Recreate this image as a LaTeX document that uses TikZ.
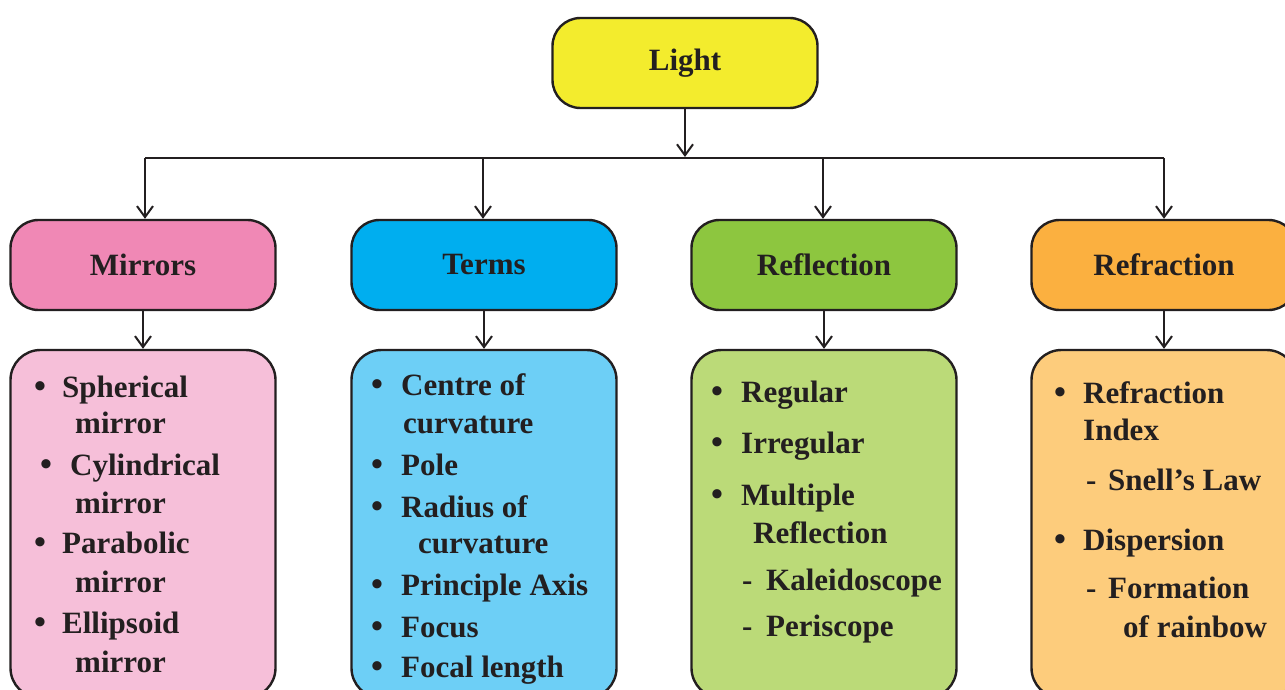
\documentclass[tikz,border=0pt]{standalone}
\usepackage{fontspec}
\setmainfont{Liberation Serif}
\usetikzlibrary{arrows.meta}
\definecolor{ink}{HTML}{231F20}
\definecolor{lightY}{HTML}{F3EC2D}
\definecolor{mirA}{HTML}{F088B5}
\definecolor{mirB}{HTML}{F6BFD9}
\definecolor{terA}{HTML}{00AEEF}
\definecolor{terB}{HTML}{6DCFF6}
\definecolor{refA}{HTML}{8DC63F}
\definecolor{refB}{HTML}{BBDA78}
\definecolor{frA}{HTML}{FBB040}
\definecolor{frB}{HTML}{FDCC7C}
\tikzset{
  box/.style={draw=ink, line width=2.4pt, rounded corners=28pt, minimum width=265pt,
    minimum height=90pt, inner sep=0pt, text=ink, font=\fontsize{31}{36}\selectfont\bfseries},
  body/.style={box, minimum height=348pt, rounded corners=30pt},
  item/.style={anchor=base west, inner sep=0pt, text=ink, font=\fontsize{31}{36}\selectfont\bfseries},
  bul/.style={anchor=base, inner sep=0pt, text=ink, font=\fontsize{34}{36}\selectfont\bfseries},
  conn/.style={draw=ink, line width=2pt},
  arr/.style={conn, -{Straight Barb[length=11pt,width=16pt]}}
}
\begin{document}
\begin{tikzpicture}[x=1pt,y=-1pt]
\useasboundingbox (0,0) rectangle (1285,690);
\fill[white] (0,0) rectangle (1285,690);

% top
\node[box, fill=lightY] (light) at (685,63) {Light};
\coordinate (hub) at (685,157);
\coordinate (jm) at (145,158);
\coordinate (jt) at (483,158);
\coordinate (jf) at (823,158);
\coordinate (jr) at (1164,158);

% row 2
\node[box, fill=mirA] (mirrors) at (143,265) {Mirrors};
\node[box, fill=terA] (terms) at (484,265) {Terms};
\node[box, fill=refA] (reflection) at (824,265) {Reflection};
\node[box, fill=frA] (refraction) at (1164,265) {Refraction};

% row 3
\node[body, fill=mirB] (mbody) at (143,524) {};
\node[body, fill=terB] (tbody) at (484,524) {};
\node[body, fill=refB] (rbody) at (824,524) {};
\node[body, fill=frB] (fbody) at (1164,524) {};

% connectors
\draw[arr] (light.south) -- (hub);
\draw[conn] (jm) -- (jr);
\draw[arr] (jm) -- (jm |- mirrors.north);
\draw[arr] (jt) -- (jt |- terms.north);
\draw[arr] (jf) -- (jf |- reflection.north);
\draw[arr] (jr) -- (jr |- refraction.north);
\draw[arr] (mirrors.south) -- (mbody.north);
\draw[arr] (terms.south) -- (tbody.north);
\draw[arr] (reflection.south) -- (rbody.north);
\draw[arr] (refraction.south) -- (fbody.north);

% Mirrors items
\node[bul] (mb1) at (40,397) {•};
\node[item] (mi1) at (62,397) {Spherical};
\node[item] (mi1b) at (75,433) {mirror};
\node[bul] (mb2) at (46,475) {•};
\node[item] (mi2) at (70,475) {Cylindrical};
\node[item] (mi2b) at (75,513) {mirror};
\node[bul] (mb3) at (40,553) {•};
\node[item] (mi3) at (62,553) {Parabolic};
\node[item] (mi3b) at (75,592) {mirror};
\node[bul] (mb4) at (40,633) {•};
\node[item] (mi4) at (62,633) {Ellipsoid};
\node[item] (mi4b) at (75,672) {mirror};

% Terms items
\node[bul] (tb1) at (377,395) {•};
\node[item] (ti1) at (401,395) {Centre of};
\node[item] (ti1b) at (403,433) {curvature};
\node[bul] (tb2) at (377,475) {•};
\node[item] (ti2) at (401,475) {Pole};
\node[bul] (tb3) at (377,517) {•};
\node[item] (ti3) at (401,517) {Radius of};
\node[item] (ti3b) at (418,553) {curvature};
\node[bul] (tb4) at (377,595) {•};
\node[item] (ti4) at (401,595) {Principle Axis};
\node[bul] (tb5) at (377,637) {•};
\node[item] (ti5) at (401,637) {Focus};
\node[bul] (tb6) at (377,677) {•};
\node[item] (ti6) at (401,677) {Focal length};

% Reflection items
\node[bul] (rb1) at (717,402) {•};
\node[item] (ri1) at (741,402) {Regular};
\node[bul] (rb2) at (717,453) {•};
\node[item] (ri2) at (741,453) {Irregular};
\node[bul] (rb3) at (717,505) {•};
\node[item] (ri3) at (741,505) {Multiple};
\node[item] (ri3b) at (753,543) {Reflection};
\node[item] (rd1) at (742,590) {-};
\node[item] (ri4) at (766,590) {Kaleidoscope};
\node[item] (rd2) at (742,636) {-};
\node[item] (ri5) at (766,636) {Periscope};

% Refraction items
\node[bul] (fb1) at (1060,403) {•};
\node[item] (fi1) at (1083,403) {Refraction};
\node[item] (fi1b) at (1083,440) {Index};
\node[item] (fd1) at (1086,490) {-};
\node[item] (fi2) at (1108,490) {Snell’s Law};
\node[bul] (fb2) at (1060,550) {•};
\node[item] (fi3) at (1083,550) {Dispersion};
\node[item] (fd2) at (1086,598) {-};
\node[item] (fi4) at (1108,598) {Formation};
\node[item] (fi4b) at (1123,637) {of rainbow};
\end{tikzpicture}
\end{document}
